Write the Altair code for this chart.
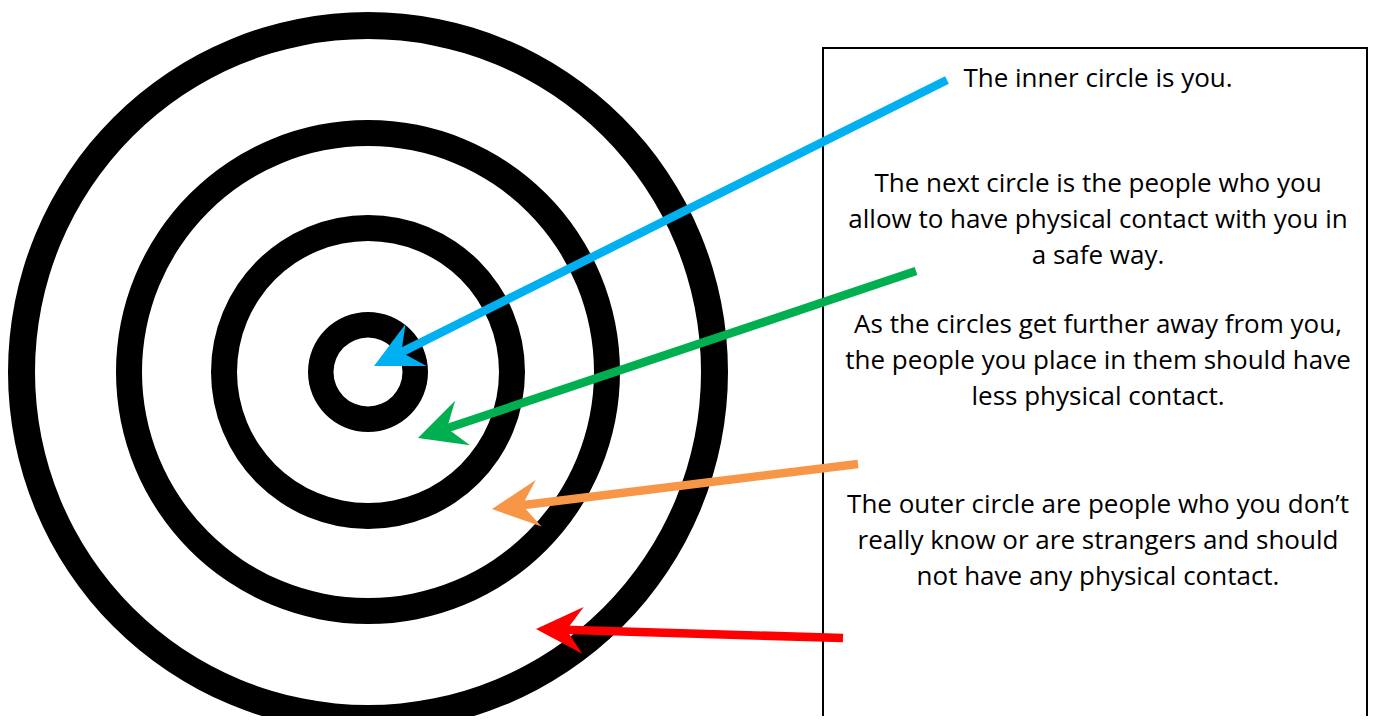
import math
import altair as alt
import pandas as pd

# ---- data (reference pixel coordinates, y pointing down) ----
ring_cx = [368, 368, 368, 368]
ring_cy = [372, 372, 372, 372]
ring_outer = [60, 157, 252, 360]
ring_inner = [34.5, 131, 226, 333]

arrow_names = ["inner", "next", "further", "outer"]
arrow_x0 = [947, 916, 858, 843]
arrow_y0 = [80, 271, 464, 638]
arrow_x1 = [374, 418, 492, 536]
arrow_y1 = [366, 438, 509, 629]
arrow_colors = ["#00B0F0", "#00B050", "#F79646", "#FF0000"]

box_x = [823, 1367]
box_y = [48, 760]

para_text = [
    "The inner circle is you.",
    "The next circle is the people who you\nallow to have physical contact with you in\na safe way.",
    "As the circles get further away from you,\nthe people you place in them should have\nless physical contact.",
    "The outer circle are people who you don\u2019t\nreally know or are strangers and should\nnot have any physical contact.",
]
para_x = [1098, 1098, 1098, 1098]
para_y = [87, 192, 333, 513]

# ---- derived tables ----
rings = pd.DataFrame({"x": ring_cx, "y": ring_cy, "ro": ring_outer, "ri": ring_inner})

HEAD = 47.0
NOTCH = 0.65
rows = []
for n, x0, y0, x1, y1, c in zip(arrow_names, arrow_x0, arrow_y0, arrow_x1, arrow_y1, arrow_colors):
    dx, dy = x1 - x0, y1 - y0
    L = math.hypot(dx, dy)
    ux, uy = dx / L, dy / L
    ang = math.degrees(math.atan2(dy, dx)) % 360
    rows.append({"name": n, "x0": x0, "y0": y0, "x1": x1, "y1": y1,
                 "xe": x1 - ux * HEAD * (NOTCH - 0.05), "ye": y1 - uy * HEAD * (NOTCH - 0.05),
                 "angle": ang, "color": c})
arrows = pd.DataFrame(rows)

box = pd.DataFrame({"x": [box_x[0]], "x2": [box_x[1]], "y": [box_y[0]], "y2": [box_y[1]]})
texts = pd.DataFrame({"t": para_text, "x": para_x, "y": para_y})

W, H = 1360, 708
xs = alt.Scale(domain=[8, 8 + W], nice=False, zero=False)
ys = alt.Scale(domain=[8, 8 + H], nice=False, zero=False, reverse=True)
color_scale = alt.Scale(domain=arrow_names, range=arrow_colors)

ring_layer = alt.Chart(rings).mark_arc(theta=0, theta2=6.2832, color="black").encode(
    x=alt.X("x:Q", scale=xs, axis=None),
    y=alt.Y("y:Q", scale=ys, axis=None),
    radius=alt.Radius("ro:Q", scale=None),
    radius2=alt.Radius2("ri:Q"),
)

box_layer = alt.Chart(box).mark_rect(fillOpacity=0, stroke="black", strokeWidth=2).encode(
    x=alt.X("x:Q", scale=xs, axis=None),
    x2="x2:Q",
    y=alt.Y("y:Q", scale=ys, axis=None),
    y2="y2:Q",
)

shaft_layer = alt.Chart(arrows).mark_rule(strokeWidth=8.5, strokeCap="butt").encode(
    x=alt.X("x0:Q", scale=xs, axis=None),
    y=alt.Y("y0:Q", scale=ys, axis=None),
    x2="xe:Q",
    y2="ye:Q",
    color=alt.Color("name:N", scale=color_scale, legend=None),
)

head_path = "M0,0 L-1,-0.5 L-%.2f,0 L-1,0.5 Z" % NOTCH
head_layer = alt.Chart(arrows).mark_point(
    shape=head_path, filled=True, opacity=1, size=(2 * HEAD) ** 2, strokeWidth=0
).encode(
    x=alt.X("x1:Q", scale=xs, axis=None),
    y=alt.Y("y1:Q", scale=ys, axis=None),
    angle=alt.Angle("angle:Q", scale=None),
    color=alt.Color("name:N", scale=color_scale, legend=None),
)

text_layer = alt.Chart(texts).mark_text(
    font="Open Sans", fontSize=26, color="black", align="center",
    baseline="alphabetic", lineBreak="\n", lineHeight=36,
).encode(
    x=alt.X("x:Q", scale=xs, axis=None),
    y=alt.Y("y:Q", scale=ys, axis=None),
    text="t:N",
)

chart = alt.layer(ring_layer, box_layer, text_layer, shaft_layer, head_layer).properties(
    width=W, height=H, padding=0, autosize="none", background="white"
).configure_view(strokeWidth=0)

chart.save("out.html", embed_options={"renderer": "svg", "actions": False})
